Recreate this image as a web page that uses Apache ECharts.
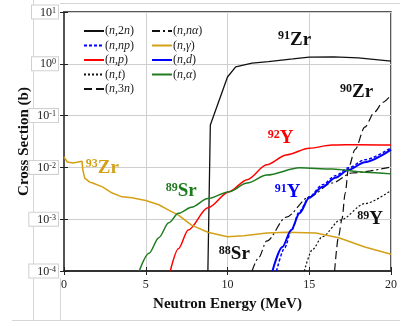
<!DOCTYPE html>
<html>
<head>
<meta charset="utf-8">
<script src="https://cdn.jsdelivr.net/npm/echarts@6/dist/echarts.min.js"></script>
<style>
html, body { margin: 0; padding: 0; background: #fff; }
#chart { width: 400px; height: 322px; }
</style>
</head>
<body>
<div id="chart"></div>
<script>
const SERIF = '"Liberation Serif", "DejaVu Serif", serif';

// axis ranges
const energyMin = 0, energyMax = 20, energyStep = 5;
const xsMin = 1e-4, xsMax = 10;

// (n,2n) -> 91Zr
const n2nE  = [8.8, 8.95, 10, 10.5, 11.5, 12.5, 14, 15, 16.5, 18, 20];
const n2nXs = [1e-4, 0.066, 0.556, 0.87, 1.03, 1.1, 1.24, 1.35, 1.36, 1.3, 1.13];
// (n,np) -> 91Y
const nnpE  = [13.0, 13.5, 13.9, 14.4, 15, 15.8, 16.6, 17.4, 18.4, 20];
const nnpXs = [1e-4, 0.00028, 0.0006, 0.0014, 0.0027, 0.0046, 0.0069, 0.0098, 0.014, 0.024];
// (n,p) -> 92Y
const npE  = [6.5, 7, 7.6, 8.8, 10.1, 11.2, 12.4, 13.6, 15, 16.4, 18, 20];
const npXs = [1e-4, 0.00027, 0.00062, 0.00166, 0.0034, 0.0058, 0.0112, 0.0174, 0.0235, 0.027, 0.0275, 0.027];
// (n,t) -> 89Y
const ntE  = [14.7, 15.2, 15.8, 16.9, 18.4, 20];
const ntXs = [1e-4, 0.00026, 0.00046, 0.00096, 0.002, 0.0036];
// (n,3n) -> 90Zr
const n3nE  = [16.55, 16.8, 17.0, 17.2, 17.4, 17.8, 18.4, 19.0, 19.5, 20];
const n3nXs = [1e-4, 0.00048, 0.001, 0.0032, 0.0098, 0.022, 0.06, 0.118, 0.18, 0.25];
// (n,nα) -> 88Sr
const nnaE  = [11.5, 11.9, 12.4, 13.6, 15, 16.4, 17.6, 20];
const nnaXs = [1e-4, 0.00018, 0.00038, 0.0011, 0.0027, 0.005, 0.0078, 0.0102];
// (n,γ) -> 93Zr
const ngE  = [0, 0.2, 0.55, 0.65, 1.1, 1.15, 1.27, 1.57, 1.75, 2.35, 2.95, 3.55, 4.15, 5, 5.8, 6.4, 7, 7.8, 8.8, 10, 11, 12.4, 13.6, 15.4, 16.8, 18.4, 20];
const ngXs = [0.016, 0.0127, 0.0122, 0.0127, 0.0132, 0.0089, 0.0062, 0.0052, 0.005, 0.0042, 0.0032, 0.0027, 0.0026, 0.0023, 0.0019, 0.0015, 0.0012, 0.00077, 0.00056, 0.00046, 0.00048, 0.00054, 0.00056, 0.00054, 0.00044, 0.00029, 0.00021];
// (n,d) -> 91Y
const ndE  = [12.75, 13.35, 13.9, 14.4, 15, 15.8, 16.6, 17.4, 18.4, 20];
const ndXs = [1e-4, 0.00029, 0.00062, 0.0013, 0.0026, 0.0042, 0.0063, 0.009, 0.0126, 0.022];
// (n,α) -> 89Sr
const naE  = [4.6, 5.2, 5.8, 6.4, 7, 7.8, 8.8, 10.1, 11.2, 12.4, 14.4, 16.4, 18.4, 20];
const naXs = [1e-4, 0.00022, 0.00044, 0.00085, 0.0013, 0.0017, 0.0025, 0.0034, 0.005, 0.0071, 0.0098, 0.0093, 0.0081, 0.0075];

const legendLeft  = ['(n,2n)', '(n,np)', '(n,p)', '(n,t)', '(n,3n)'];
const legendRight = ['(n,nα)', '(n,γ)', '(n,d)', '(n,α)'];

// product nuclide tags: mass, element, energy, cross section, colour
const tagMass  = ['91', '90', '92', '93', '89', '91', '88', '89'];
const tagElem  = ['Zr', 'Zr', 'Y', 'Zr', 'Sr', 'Y', 'Sr', 'Y'];
const tagE     = [14.1, 17.9, 13.25, 2.35, 7.17, 13.67, 10.42, 18.73];
const tagXs    = [2.9, 0.286, 0.037, 0.0098, 0.0035, 0.0033, 0.00021, 0.001];
const tagColor = ['#111', '#111', '#ff0000', '#d4a017', '#1e7b1e', '#0000ff', '#111', '#111'];

const zip = (xs, ys) => xs.map((x, i) => [x, ys[i]]);

const mkLine = (name, e, xs, color, type, width, smooth) => ({
  name,
  type: 'line',
  data: zip(e, xs),
  showSymbol: false,
  symbol: 'circle',
  smooth: smooth,
  smoothMonotone: 'x',
  clip: true,
  lineStyle: { color, type, width },
  itemStyle: { color },
  emphasis: { disabled: true }
});

const legendFmt = name => name.replace(/([a-zαγ]+)/g, '{i|$1}');
const legendBase = {
  orient: 'vertical',
  top: 25,
  padding: 0,
  itemWidth: 20,
  itemHeight: 10,
  itemGap: 2.5,
  itemStyle: { opacity: 0 },
  formatter: legendFmt,
  textStyle: {
    fontFamily: SERIF, fontSize: 12, color: '#222', padding: [0, 0, 0, -4],
    rich: { i: { fontFamily: SERIF, fontSize: 12, fontStyle: 'italic', color: '#222' } }
  }
};

const chart = echarts.init(document.getElementById('chart'));

const option = {
  backgroundColor: '#fff',
  animation: false,
  grid: {
    left: 64, right: 4, top: 12, bottom: 51,
    show: true, borderColor: '#222', borderWidth: 1.5, backgroundColor: 'transparent'
  },
  legend: [
    Object.assign({}, legendBase, { data: legendLeft, left: 83 }),
    Object.assign({}, legendBase, { data: legendRight, left: 151 })
  ],
  xAxis: [{
    type: 'value', min: energyMin, max: energyMax, interval: energyStep,
    position: 'bottom',
    name: 'Neutron Energy (MeV)', nameLocation: 'middle', nameGap: 26,
    nameMoveOverlap: false,
    nameTextStyle: { fontFamily: SERIF, fontSize: 15, fontWeight: 'bold', color: '#111' },
    axisLine: { onZero: false, lineStyle: { color: '#333', width: 2 } },
    axisTick: { show: true, length: 4, lineStyle: { color: '#222', width: 1 } },
    axisLabel: { fontFamily: SERIF, fontSize: 12, color: '#222', margin: 8, showMaxLabel: true },
    splitLine: { show: true, lineStyle: { color: '#cfcfcf', width: 1 } }
  }, {
    type: 'value', min: energyMin, max: energyMax, interval: energyStep,
    position: 'bottom',
    axisLine: { show: false },
    axisTick: { show: true, inside: true, length: 4, lineStyle: { color: '#222', width: 1 } },
    axisLabel: { show: false },
    splitLine: { show: false }
  }],
  yAxis: [{
    type: 'log', logBase: 10, min: xsMin, max: xsMax,
    position: 'left',
    name: 'Cross Section (b)', nameLocation: 'middle', nameGap: 32,
    nameMoveOverlap: false,
    nameTextStyle: { fontFamily: SERIF, fontSize: 15, fontWeight: 'bold', color: '#111' },
    axisLine: { lineStyle: { color: '#555', width: 2 } },
    axisTick: { show: true, length: 4, lineStyle: { color: '#222', width: 1 } },
    minorTick: { show: false },
    axisLabel: {
      margin: 6,
      formatter: v => '{b|10}{s|' + Math.round(Math.log10(v)) + '}',
      backgroundColor: '#fff', borderColor: '#cfcfcf', borderWidth: 1,
      padding: [1, 2, 0, 8],
      rich: {
        b: { fontFamily: SERIF, fontSize: 12, color: '#222' },
        s: { fontFamily: SERIF, fontSize: 8, color: '#222', verticalAlign: 'top' }
      }
    },
    splitLine: { show: true, lineStyle: { color: '#cfcfcf', width: 1 } }
  }, {
    type: 'log', logBase: 10, min: xsMin, max: xsMax,
    position: 'left',
    axisLine: { show: false },
    axisTick: { show: true, inside: true, length: 4, lineStyle: { color: '#222', width: 1 } },
    axisLabel: { show: false },
    splitLine: { show: false }
  }],
  series: [
    mkLine('(n,2n)', n2nE, n2nXs, '#111', 'solid', 1.3, false),
    mkLine('(n,np)', nnpE, nnpXs, '#0000ff', [3, 2], 1.5, 0.3),
    mkLine('(n,p)', npE, npXs, '#ff0000', 'solid', 1.5, 0.3),
    mkLine('(n,t)', ntE, ntXs, '#111', [2, 2], 1.2, 0.3),
    mkLine('(n,3n)', n3nE, n3nXs, '#111', [8, 4], 1.2, 0.3),
    mkLine('(n,nα)', nnaE, nnaXs, '#111', [8, 3, 2, 3], 1.2, 0.3),
    mkLine('(n,γ)', ngE, ngXs, '#d4a017', 'solid', 1.5, false),
    mkLine('(n,d)', ndE, ndXs, '#0000ff', 'solid', 2, 0.3),
    mkLine('(n,α)', naE, naXs, '#1e7b1e', 'solid', 1.5, 0.3)
  ],
  graphic: []
};

chart.setOption(option);

// faint frame lines around the original figure
const frame = [
  [33.5, 0, 33.5, 320],
  [60.5, 278, 60.5, 320],
  [12, 320.5, 400, 320.5],
  [60, 3.5, 400, 3.5]
].map(s => ({
  type: 'line', silent: true, z: -1,
  shape: { x1: s[0], y1: s[1], x2: s[2], y2: s[3] },
  style: { stroke: '#d6d6d6', lineWidth: 1 }
}));

// nuclide tags, placed through the axes
const tags = tagMass.map((m, i) => {
  const p = chart.convertToPixel({ xAxisIndex: 0, yAxisIndex: 0 }, [tagE[i], tagXs[i]]);
  const c = tagColor[i];
  return {
    type: 'text', silent: true, z: 100,
    x: p[0], y: p[1],
    style: {
      text: '{s|' + m + '}{b|' + tagElem[i] + '}',
      align: 'center', verticalAlign: 'middle',
      fill: c,
      rich: {
        s: { fontFamily: SERIF, fontSize: 12, fontWeight: 'bold', fill: c, verticalAlign: 'top' },
        b: { fontFamily: SERIF, fontSize: 19, fontWeight: 'bold', fill: c }
      }
    }
  };
});

chart.setOption({ graphic: frame.concat(tags) });
</script>
</body>
</html>
